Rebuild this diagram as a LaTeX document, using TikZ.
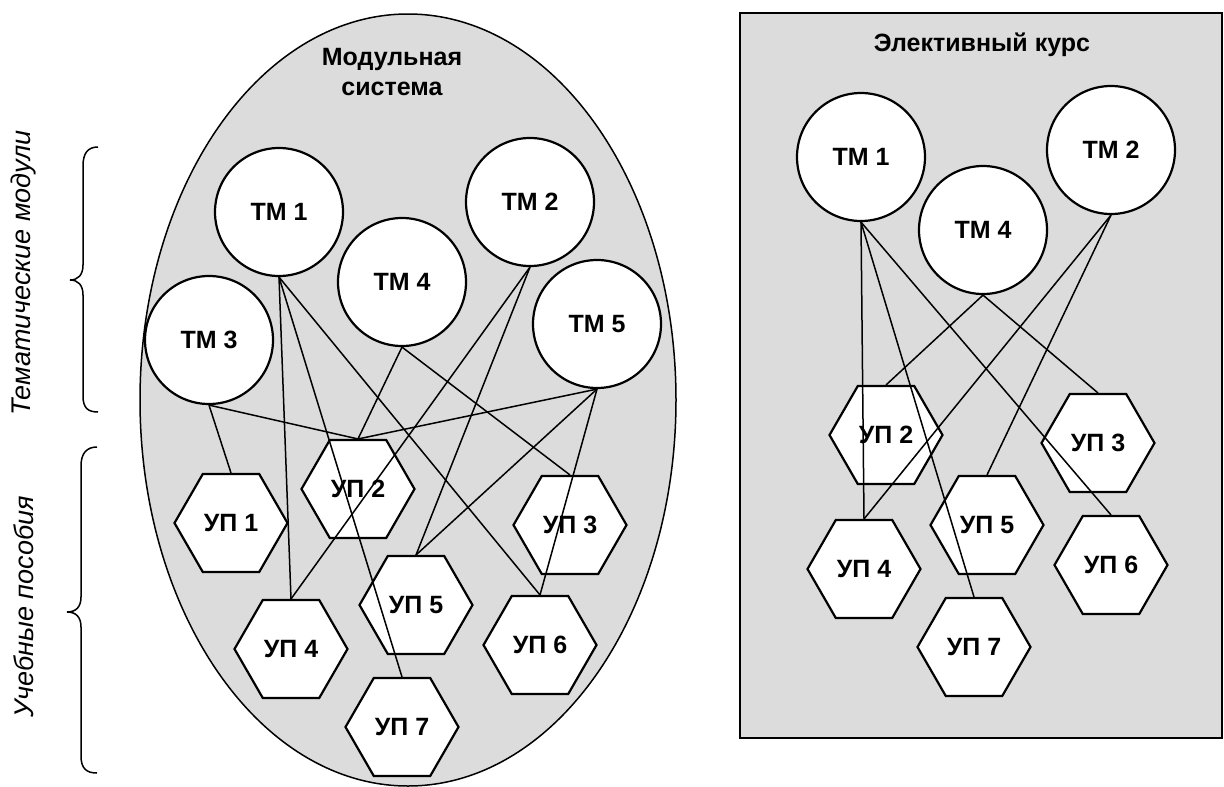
\documentclass[tikz,border=0pt]{standalone}
\usepackage{fontspec}
\setmainfont{Liberation Sans}
\usetikzlibrary{shapes.geometric}
\definecolor{bg}{HTML}{DCDCDC}
\newcommand{\nodefnt}{\fontsize{25}{30}\selectfont\bfseries}
\newcommand{\lblfnt}{\fontsize{27}{31}\selectfont\itshape}
\begin{document}
\begin{tikzpicture}[x=1pt,y=-1pt,
  tm/.style={circle, draw, line width=2.2pt, fill=white, minimum size=128pt, inner sep=0pt, font=\nodefnt},
  up/.style={regular polygon, regular polygon sides=6, draw, line width=2.2pt, fill=white, minimum size=113pt, inner sep=0pt, font=\nodefnt},
  conn/.style={line width=1.5pt},
  ttl/.style={font=\nodefnt, align=center, inner sep=0pt},
  lbl/.style={font=\lblfnt, rotate=90, inner sep=0pt},
  brc/.style={line width=1.5pt}]
\useasboundingbox (0,0) rectangle (1224,787);
% left ellipse
\draw[fill=bg, line width=1.5pt] (408,400) ellipse [x radius=268pt, y radius=386pt];
\node[ttl] (t1) at (392,72) {Модульная\\система};
% right box
\draw[fill=bg, line width=1.5pt] (740,13) rectangle (1222,738);
\node[ttl] (t2) at (982,45) {Элективный курс};
% braces
\draw[brc] (98,147) .. controls (88,147) and (83,153) .. (83,166) -- (83,265) .. controls (83,275) and (78,280) .. (70,280) .. controls (78,280) and (83,285) .. (83,295) -- (83,396) .. controls (83,408) and (88,412) .. (98,412);
\draw[brc] (97,447) .. controls (87,447) and (81,453) .. (81,466) -- (81,597) .. controls (81,607) and (76,612) .. (67,612) .. controls (76,612) and (81,617) .. (81,627) -- (81,756) .. controls (81,769) and (87,773) .. (97,773);
\node[lbl] (la) at (24,273) {Тематические модули};
\node[lbl] (lb) at (24,607) {Учебные пособия};
% left nodes
\node[tm] (a1) at (279,212) {ТМ 1};
\node[tm] (a2) at (530,202) {ТМ 2};
\node[tm] (a3) at (209,340) {ТМ 3};
\node[tm] (a4) at (402,282) {ТМ 4};
\node[tm] (a5) at (597,324) {ТМ 5};
\node[up] (p1) at (231,523) {УП 1};
\node[up] (p2) at (358,489) {УП 2};
\node[up] (p3) at (570,525) {УП 3};
\node[up] (p4) at (291,649) {УП 4};
\node[up] (p5) at (416,605) {УП 5};
\node[up] (p6) at (540,645) {УП 6};
\node[up] (p7) at (402,727) {УП 7};
% right nodes
\node[tm] (b1) at (861,157) {ТМ 1};
\node[tm] (b4) at (983,230) {ТМ 4};
\node[tm] (b2) at (1111,150) {ТМ 2};
\node[up] (q2) at (886,435) {УП 2};
\node[up] (q3) at (1098,443) {УП 3};
\node[up] (q4) at (864,569) {УП 4};
\node[up] (q5) at (987,525) {УП 5};
\node[up] (q6) at (1111,565) {УП 6};
\node[up] (q7) at (974,647) {УП 7};
% left connectors
\draw[conn] (a1.south) -- (p4.north);
\draw[conn] (a1.south) -- (p7.north);
\draw[conn] (a1.south) -- (p6.north);
\draw[conn] (a2.south) -- (p4.north);
\draw[conn] (a2.south) -- (p5.north);
\draw[conn] (a3.south) -- (p1.north);
\draw[conn] (a3.south) -- (p2.north);
\draw[conn] (a4.south) -- (p2.north);
\draw[conn] (a4.south) -- (p3.north);
\draw[conn] (a5.south) -- (p2.north);
\draw[conn] (a5.south) -- (p5.north);
\draw[conn] (a5.south) -- (p6.north);
% right connectors
\draw[conn] (b1.south) -- (q4.north);
\draw[conn] (b1.south) -- (q7.north);
\draw[conn] (b1.south) -- (q6.north);
\draw[conn] (b2.south) -- (q4.north);
\draw[conn] (b2.south) -- (q5.north);
\draw[conn] (b4.south) -- (q2.north);
\draw[conn] (b4.south) -- (q3.north);
\end{tikzpicture}
\end{document}
